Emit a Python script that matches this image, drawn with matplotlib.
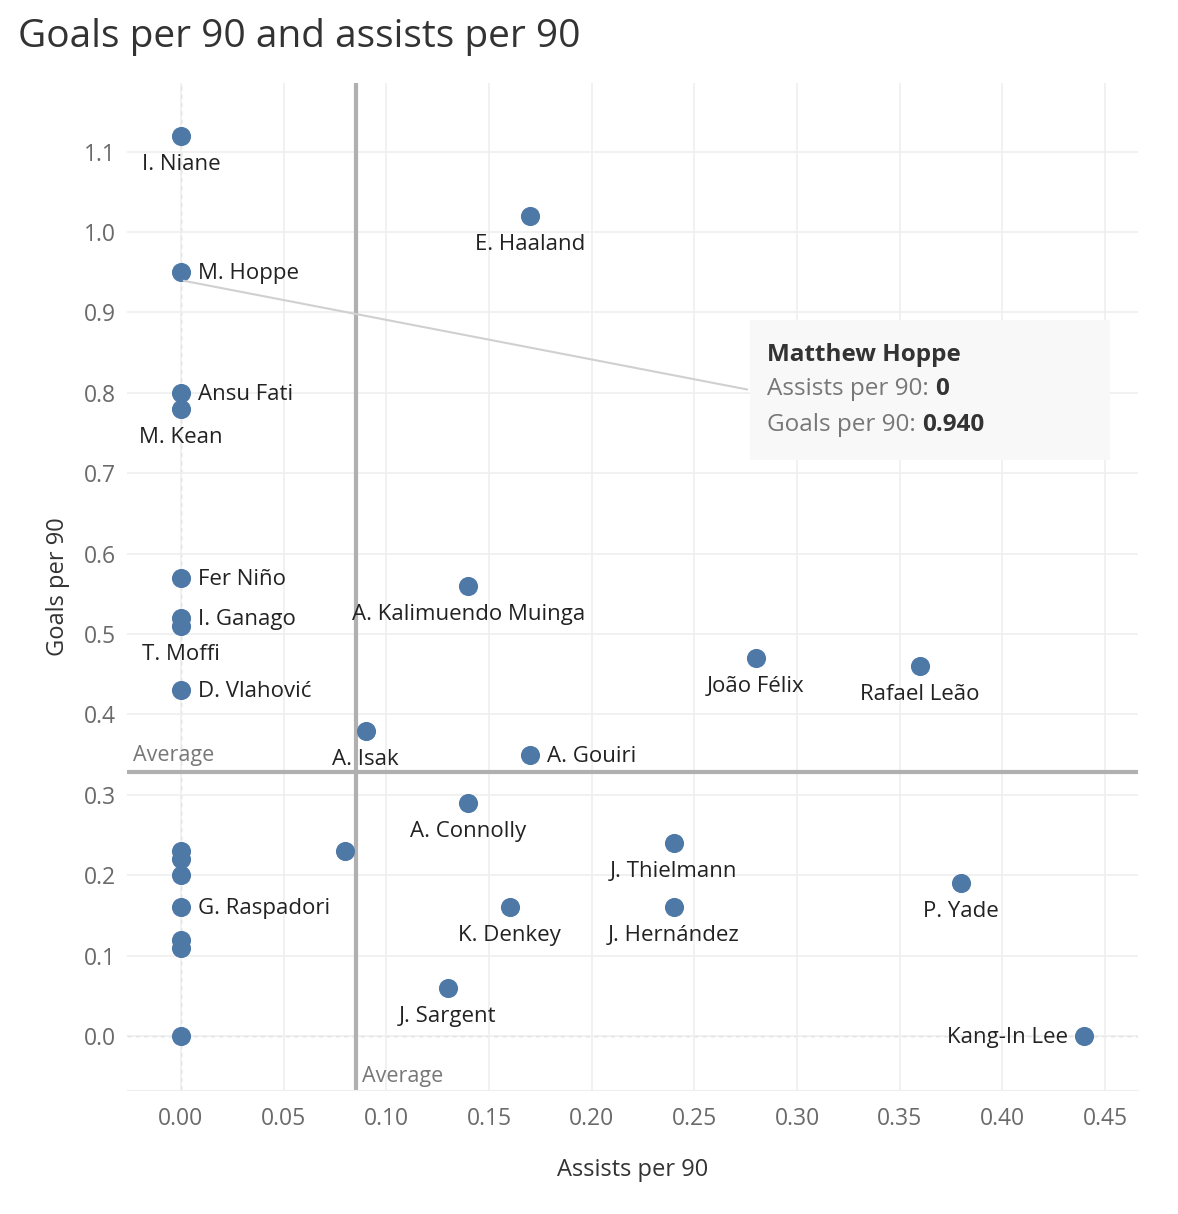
import matplotlib.pyplot as plt
from matplotlib.patches import Rectangle

plt.rcParams['font.family'] = ['Open Sans', 'DejaVu Sans']

# assists per 90, goals per 90, label, label placement
assists = [0, 0.17, 0, 0, 0, 0, 0, 0, 0, 0.14, 0.28, 0.36, 0.09, 0.17, 0.14,
           0.08, 0.24, 0.38, 0.16, 0.24, 0.13, 0.44,
           0, 0, 0, 0, 0, 0, 0]
goals = [1.12, 1.02, 0.95, 0.80, 0.78, 0.57, 0.52, 0.51, 0.43, 0.56, 0.47, 0.46, 0.38, 0.35, 0.29,
         0.23, 0.24, 0.19, 0.16, 0.16, 0.06, 0.0,
         0.23, 0.22, 0.20, 0.16, 0.12, 0.11, 0.0]
names = ["I. Niane", "E. Haaland", "M. Hoppe", "Ansu Fati", "M. Kean", "Fer Niño", "I. Ganago",
         "T. Moffi", "D. Vlahović", "A. Kalimuendo Muinga", "João Félix", "Rafael Leão", "A. Isak",
         "A. Gouiri", "A. Connolly", "", "J. Thielmann", "P. Yade", "K. Denkey", "J. Hernández",
         "J. Sargent", "Kang-In Lee", "", "", "", "G. Raspadori", "", "", ""]
where = ["below", "below", "right", "right", "below", "right", "right", "below", "right", "below",
         "below", "below", "below", "right", "below", "", "below", "below", "below", "below",
         "below", "left", "", "", "", "right", "", "", ""]

avg_assists = 0.0852
avg_goals = 0.328

fig = plt.figure(figsize=(11.78, 12.14), dpi=100)
ax = fig.add_axes([0.1078, 0.1021, 0.8583, 0.8295])
ax.set_xlim(-0.0263, 0.4661)
ax.set_ylim(-0.0672, 1.1853)

ax.set_xticks([i * 0.05 for i in range(10)])
ax.set_yticks([i * 0.1 for i in range(12)])
ax.set_xticklabels(["%.2f" % (i * 0.05) for i in range(10)])
ax.set_yticklabels(["%.1f" % (i * 0.1) for i in range(12)])
ax.grid(True, color="#efefef", lw=1.2, zorder=0)
ax.tick_params(length=0, labelsize=16.5, labelcolor="#6a6a6a", pad=12)
ax.tick_params(axis="y", pad=8)
for s in ["top", "right", "left"]:
    ax.spines[s].set_visible(False)
ax.spines["bottom"].set_color("#efefef")

ax.axvline(0, color="#bbbbbb", lw=1, ls=(0, (3, 3)), zorder=1)
ax.axhline(0, color="#bbbbbb", lw=1, ls=(0, (3, 3)), zorder=1)

ax.axvline(avg_assists, color="#b0b0b0", lw=3, zorder=2)
ax.axhline(avg_goals, color="#b0b0b0", lw=3, zorder=2)
ax.text(-0.0235, avg_goals + 0.008, "Average", fontsize=15.5, color="#777777", va="bottom", ha="left")
ax.text(avg_assists + 0.003, -0.063, "Average", fontsize=15.5, color="#777777", va="bottom", ha="left")

ax.scatter(assists, goals, s=190, color="#4e79a7", zorder=4, linewidths=0)

for x, y, n, w in zip(assists, goals, names, where):
    if not n:
        continue
    if w == "below":
        ax.annotate(n, (x, y), xytext=(0, -13), textcoords="offset points",
                    ha="center", va="top", fontsize=16, color="#222222", zorder=5)
    elif w == "right":
        ax.annotate(n, (x, y), xytext=(12, -1), textcoords="offset points",
                    ha="left", va="center", fontsize=16, color="#222222", zorder=5)
    else:
        ax.annotate(n, (x, y), xytext=(-12, -1), textcoords="offset points",
                    ha="right", va="center", fontsize=16, color="#222222", zorder=5)

ax.set_xlabel("Assists per 90", fontsize=17, color="#333333", labelpad=20)
ax.set_ylabel("Goals per 90", fontsize=17, color="#333333", labelpad=10)

fig.text(18 / 1178, 1 - 37 / 1214, "Goals per 90 and assists per 90", fontsize=28,
         color="#333333", va="center", ha="left")

# tooltip
ax.annotate("", xy=(0, 0.94), xytext=(750 / 1178, 1 - 390 / 1214), textcoords="figure fraction",
            arrowprops=dict(arrowstyle="-", color="#d0d0d0", lw=1.5), zorder=6)
fig.patches.append(Rectangle((750 / 1178, 1 - 460 / 1214), 360 / 1178, 140 / 1214,
                             transform=fig.transFigure, facecolor="#f8f8f8", edgecolor="none",
                             zorder=7))
fig.text(767 / 1178, 1 - 355 / 1214, "Matthew Hoppe", fontsize=17.5, fontweight="bold",
         color="#333333", va="center", zorder=8)
t1 = fig.text(767 / 1178, 1 - 389 / 1214, "Assists per 90: ", fontsize=17.5, color="#777777",
              va="center", zorder=8)
t2 = fig.text(767 / 1178, 1 - 425 / 1214, "Goals per 90: ", fontsize=17.5, color="#777777",
              va="center", zorder=8)
fig.canvas.draw()
r = fig.canvas.get_renderer()
for t, v in [(t1, "0"), (t2, "0.940")]:
    bb = t.get_window_extent(r)
    fig.text(bb.x1 / fig.bbox.width, t.get_position()[1], v, fontsize=17.5, fontweight="bold",
             color="#333333", va="center", zorder=8)

fig.savefig("out.png", dpi=100)
